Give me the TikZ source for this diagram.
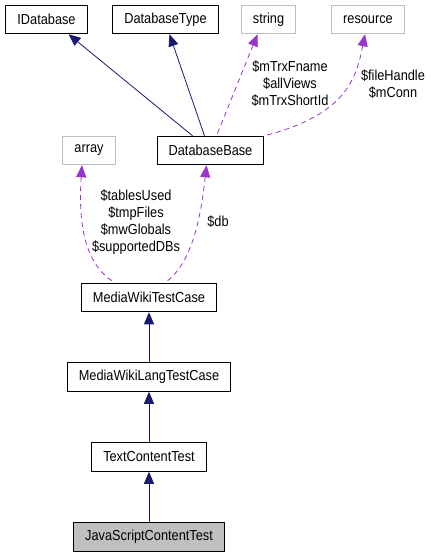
\documentclass[tikz,border=0pt]{standalone}
\usepackage{fontspec}
\setmainfont{Liberation Sans}[FakeStretch=0.88]
\usetikzlibrary{arrows.meta, positioning}
\definecolor{inhc}{RGB}{25,25,112}
\definecolor{usec}{RGB}{154,50,205}
\definecolor{extc}{RGB}{191,191,191}

\begin{document}
\begin{tikzpicture}[
		x=1pt, y=-1pt,
		box/.style={draw, line width=1pt, font=\fontsize{14.5}{17}\selectfont, inner xsep=11.5pt, minimum height=28.5pt},
		ext/.style={box, draw=extc},
		lbl/.style={align=center, font=\fontsize{14.5}{17}\selectfont, inner sep=0pt},
		inh/.style={{Triangle[length=12pt,width=10pt]}-, inhc, line width=0.8pt},
		use/.style={{Triangle[length=12pt,width=10pt]}-, usec, line width=0.8pt, dash pattern=on 5pt off 4pt}
	]
		\useasboundingbox (0,0) rectangle (436,557);
		\node[box] (idb) at (46.5,19.5) {IDatabase};
		\node[box] (dbtype) at (165.5,19.5) {DatabaseType};
		\node[ext] (str) at (268.5,19.5) {string};
		\node[ext] (res) at (368,19.5) {resource};
		\node[box] (dbbase) at (210.5,150.5) {DatabaseBase};
		\node[ext] (arr) at (89,150.5) {array};
		\node[box] (mwtc) at (149,297.5) {MediaWikiTestCase};
		\node[box] (mwltc) at (149,377) {MediaWikiLangTestCase};
		\node[box] (tct) at (149,457) {TextContentTest};
		\node[box, fill=extc] (jsct) at (149,537) {JavaScriptContentTest};
		% inheritance
		\draw[inh] ([xshift=22pt]idb.south) -- ([xshift=-18pt]dbbase.north);
		\draw[inh] ([xshift=4pt]dbtype.south) -- ([xshift=-6pt]dbbase.north);
		\draw[inh] (mwtc) -- (mwltc);
		\draw[inh] (mwltc) -- (tct);
		\draw[inh] (tct) -- (jsct);
		% members
		\draw[use] ([xshift=-11pt]str.south) -- ([xshift=6pt]dbbase.north);
		\draw[use] ([xshift=-3pt]res.south) .. controls (356,80) and (345,115) .. (dbbase.north east);
		\draw[use] ([xshift=-7pt]arr.south) .. controls (78,225) and (85,265) .. ([xshift=-34pt]mwtc.north);
		\draw[use] ([xshift=-4pt]dbbase.south) .. controls (200,225) and (190,265) .. ([xshift=16pt]mwtc.north);
		\node[lbl] (strlbl) at (290,84) {\$mTrxFname\\\$allViews\\\$mTrxShortId};
		\node[lbl] (reslbl) at (393,84) {\$fileHandle\\\$mConn};
		\node[lbl] (arrlbl) at (136,222) {\$tablesUsed\\\$tmpFiles\\\$mwGlobals\\\$supportedDBs};
		\node[lbl] (dblbl) at (218,222) {\$db};
	\end{tikzpicture}
\end{document}
